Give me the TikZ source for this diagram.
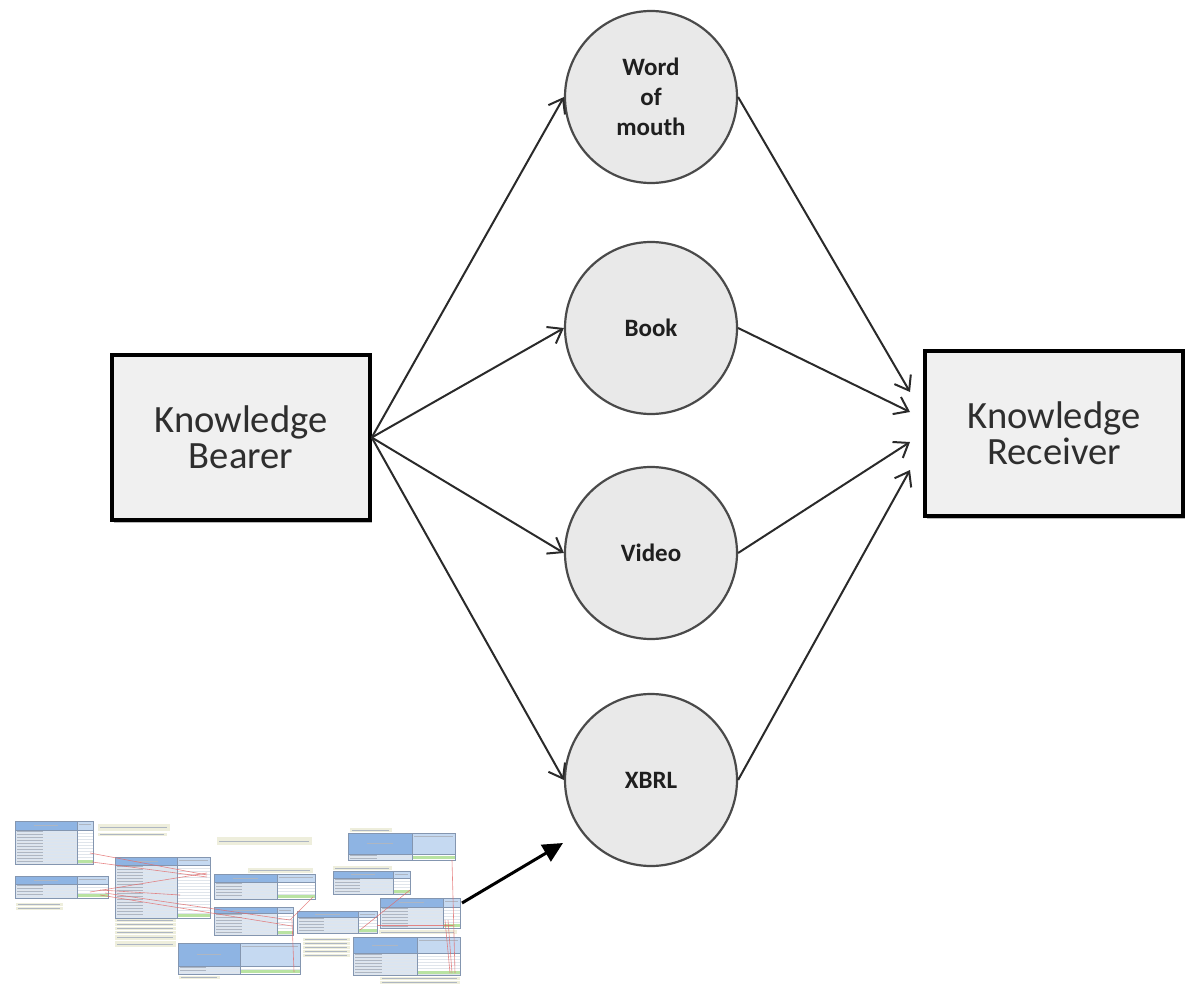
\documentclass[tikz,border=0pt]{standalone}
\usepackage{fontspec}
\setmainfont{Carlito}
\usetikzlibrary{arrows.meta,shadows}

\definecolor{boxgray}{HTML}{F0F0F0}
\definecolor{discgray}{HTML}{E9E9E9}
\definecolor{ringgray}{HTML}{4A4A4A}
\definecolor{inkgray}{HTML}{2E2E2E}
\definecolor{linegray}{HTML}{2A2A2A}
\definecolor{sheetbody}{HTML}{DBE5F1}
\definecolor{sheethead}{HTML}{8EB4E3}
\definecolor{sheetcol}{HTML}{C5D9F1}
\definecolor{sheetrule}{HTML}{8496B0}
\definecolor{sheetgreen}{HTML}{B9E3A2}
\definecolor{notefill}{HTML}{EEEEDC}
\definecolor{linkred}{HTML}{E26B6B}
\definecolor{textish}{HTML}{AEB6C2}

\tikzset{
  holder/.style={draw=black, line width=3.5pt, fill=boxgray,
    minimum width=258pt, minimum height=165pt, align=center, text=inkgray,
    font=\fontsize{38.6}{36}\selectfont,
    drop shadow={shadow xshift=2pt, shadow yshift=-3pt, fill=black!55}},
  medium/.style={circle, draw=ringgray, line width=2.2pt, fill=discgray,
    minimum size=172pt, inner sep=0pt, align=center, text=black!88,
    font=\bfseries\fontsize{25}{30}\selectfont},
  flow/.style={draw=linegray, line width=2pt,
    -{Straight Barb[length=13pt,width=19pt]}},
  pointer/.style={draw=black, line width=3pt,
    -{Triangle[length=20pt,width=19pt]}},
  sheetrule/.style={draw=sheetrule, line width=0.5pt},
  rowline/.style={draw=white!75!sheetrule, line width=0.25pt},
  textbar/.style={draw=textish, line width=0.5pt},
  link/.style={draw=linkred, line width=0.6pt, opacity=0.8},
}

% a miniature spreadsheet table: x1 y1 x2 y2, column split, header bottom
\newcommand\minisheet[6]{%
  \fill[sheetbody] (#1,#2) rectangle (#3,#4);
  \fill[sheethead] (#1,#2) rectangle (#5,#6);
  \fill[sheetcol] (#5,#2) rectangle (#3,#6);
  \fill[white] (#5,#6) rectangle (#3,#4);
  \pgfmathtruncatemacro\nrows{max(1,(#4-#6)/3)}
  \foreach \k in {1,...,\nrows}{
    \pgfmathsetmacro\yy{#6+3*\k}
    \draw[rowline] (#1,\yy) -- (#3,\yy);
    \draw[textbar] ({#1+2},{\yy-1.5}) -- ({#1+0.45*(#5-#1)},{\yy-1.5});
  }
  \draw[textbar] ({#1+0.3*(#5-#1)},{(#2+#6)/2}) -- ({#1+0.7*(#5-#1)},{(#2+#6)/2});
  \draw[textbar] ({#5+2},{#2+3}) -- ({#3-2},{#2+3});
  \fill[sheetgreen] (#5,{#4-4}) rectangle (#3,{#4-1});
  \draw[sheetrule] (#5,#2) -- (#5,#4) (#1,#6) -- (#3,#6);
  \draw[sheetrule] (#1,#2) rectangle (#3,#4);
}
% a miniature comment note with a line of formula text
\newcommand\mininote[4]{%
  \fill[notefill] (#1,#2) rectangle (#3,#4);
  \draw[textbar] ({#1+2},{(#2+#4)/2}) -- ({#3-3},{(#2+#4)/2});
}

\begin{document}
\begin{tikzpicture}[x=1pt,y=-1pt]
\useasboundingbox (0,0) rectangle (1191,987);

% ---- main diagram ----
\node[holder] (bearer) at (241,437.5) {Knowledge\\Bearer};
\node[holder] (receiver) at (1054,433.5) {Knowledge\\Receiver};

\node[medium] (mouth) at (651,97)  {Word\\of\\mouth};
\node[medium] (book)  at (651,328) {Book};
\node[medium] (video) at (651,553) {Video};
\node[medium] (xbrl)  at (651,780) {XBRL};

\coordinate (in1) at (910,392);
\coordinate (in2) at (910,412);
\coordinate (in3) at (910,442);
\coordinate (in4) at (910,470);

\foreach \m in {mouth,book,video,xbrl}
  \draw[flow] (bearer.east) -- (\m.west);

\draw[flow] (mouth.east) -- (in1);
\draw[flow] (book.east)  -- (in2);
\draw[flow] (video.east) -- (in3);
\draw[flow] (xbrl.east)  -- (in4);

% ---- miniature XBRL rendering ----
\mininote{98}{824}{170}{831}
\mininote{98}{833}{167}{836}
\mininote{16}{903}{63}{906}
\mininote{16}{907}{63}{910}
\foreach \t in {919,923,927,931}
  \mininote{115}{\t}{176}{\t+3};
\mininote{115}{935}{176}{940}
\mininote{115}{941}{176}{947}
\mininote{179}{976}{220}{979}
\mininote{217}{837}{312}{845}
\mininote{248}{868}{313}{873}
\foreach \t in {938,942,946,950,954}
  \mininote{303}{\t}{350}{\t+3};
\mininote{350}{828}{392}{832}
\mininote{333}{866}{392}{870}
\mininote{379}{930}{457}{934}
\foreach \t in {977,981}
  \mininote{380}{\t}{460}{\t+3};

\minisheet{15}{821}{93}{864}{77}{830}
\minisheet{15}{876}{108}{898}{77}{884}
\minisheet{115}{857}{210}{918}{177}{865}
\minisheet{178}{943}{300}{974}{240}{966}
\minisheet{214}{874}{315}{899}{277}{882}
\minisheet{214}{907}{293}{935}{277}{913}
\minisheet{297}{911}{377}{933}{358}{917}
\minisheet{348}{833}{455}{860}{412}{854}
\minisheet{333}{871}{410}{894}{393}{878}
\minisheet{380}{898}{460}{928}{443}{907}
\minisheet{353}{937}{460}{975}{417}{953}

\draw[link] (90,853) -- (207,875);
\draw[link] (92,862) -- (207,877);
\draw[link] (90,892) -- (207,873);
\draw[link] (100,890) -- (180,895);
\draw[link] (105,893) -- (290,920);
\draw[link] (100,895) -- (292,926);
\draw[link] (290,920) -- (313,897);
\draw[link] (292,920) -- (294,972);
\draw[link] (410,890) -- (360,930);
\draw[link] (452,860) -- (455,973);
\draw[link] (377,925) -- (453,925);
\draw[link] (445,920) -- (450,973);
\draw[link] (448,920) -- (452,973);

\coordinate (thumbtail) at (462,903);
\coordinate (thumbtip) at (563,843);
\draw[pointer] (thumbtail) -- (thumbtip);
\end{tikzpicture}
\end{document}
